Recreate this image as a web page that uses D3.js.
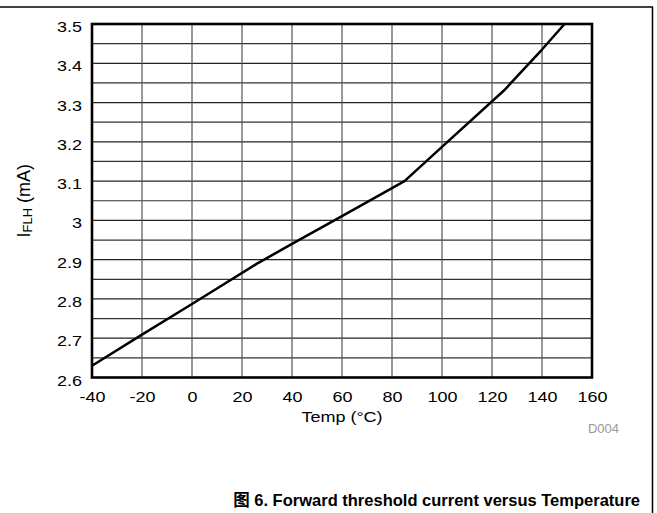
<!DOCTYPE html>
<html>
<head>
<meta charset="utf-8">
<script src="https://cdn.jsdelivr.net/npm/d3@7"></script>
<style>
  body { margin: 0; background: #fff; }
  svg { display: block; }
  text { font-family: "Liberation Sans", Arial, sans-serif; }
</style>
</head>
<body>
<svg id="chart" width="657" height="513"></svg>
<script>
// ---- Data ----
const temps = [-40, -20, 0, 26, 40, 60, 85, 100, 125, 140, 149];
const iflh = [2.63, 2.709, 2.787, 2.89, 2.94, 3.011, 3.10, 3.187, 3.332, 3.435, 3.5];
const xTicks = [-40, -20, 0, 20, 40, 60, 80, 100, 120, 140, 160];
const yTicks = [2.6, 2.7, 2.8, 2.9, 3, 3.1, 3.2, 3.3, 3.4, 3.5];
const yMinorTicks = [2.65, 2.75, 2.85, 2.95, 3.05, 3.15, 3.25, 3.35, 3.45];
const xLabel = "Temp (°C)";
const yLabelMain = "I";
const yLabelSub = "FLH";
const yLabelTail = " (mA)";
const codeLabel = "D004";
const title = "图 6. Forward threshold current versus Temperature";

const svg = d3.select("#chart");
const plot = { left: 92, right: 592, top: 24, bottom: 377.5 };
const SX = 1.2; // horizontal stretch of the reference lettering

const x = d3.scaleLinear().domain([-40, 160]).range([plot.left, plot.right]);
const y = d3.scaleLinear().domain([2.6, 3.5]).range([plot.bottom, plot.top]);

// outer frame (top and right)
svg.append("line").attr("x1", 0).attr("x2", 653).attr("y1", 7).attr("y2", 7)
  .attr("stroke", "#000").attr("stroke-width", 1.5);
svg.append("line").attr("x1", 652.5).attr("x2", 652.5).attr("y1", 7).attr("y2", 513)
  .attr("stroke", "#000").attr("stroke-width", 1.5);

// grid
const g = svg.append("g");
g.selectAll(".hmin").data(yMinorTicks).enter().append("line")
  .attr("x1", plot.left).attr("x2", plot.right)
  .attr("y1", d => y(d)).attr("y2", d => y(d))
  .attr("stroke", "#333").attr("stroke-width", 1.2);
g.selectAll(".hmaj").data(yTicks).enter().append("line")
  .attr("x1", plot.left).attr("x2", plot.right)
  .attr("y1", d => y(d)).attr("y2", d => y(d))
  .attr("stroke", "#222").attr("stroke-width", 1.2);
g.selectAll(".v").data(xTicks).enter().append("line")
  .attr("x1", d => x(d)).attr("x2", d => x(d))
  .attr("y1", plot.top).attr("y2", plot.bottom)
  .attr("stroke", "#555").attr("stroke-width", 1.2);

// data line
const line = d3.line().x((d, i) => x(temps[i])).y(d => y(d));
svg.append("path").datum(iflh).attr("d", line)
  .attr("fill", "none").attr("stroke", "#000").attr("stroke-width", 2.5)
  .attr("stroke-linejoin", "round");

// plot border
svg.append("rect").attr("x", plot.left).attr("y", plot.top)
  .attr("width", plot.right - plot.left).attr("height", plot.bottom - plot.top)
  .attr("fill", "none").attr("stroke", "#000").attr("stroke-width", 2.6);

// axes via d3 (tick labels only)
const xAxis = d3.axisBottom(x).tickValues(xTicks).tickSize(0).tickPadding(0).tickFormat(d => String(d));
const xa = svg.append("g").attr("transform", `translate(0,${plot.bottom + 13})`).call(xAxis);
xa.select(".domain").remove();
xa.selectAll("text").attr("font-size", 15).attr("font-family", "Liberation Sans, Arial, sans-serif")
  .attr("fill", "#000").attr("dy", "0.75em").attr("transform", `scale(${SX},1)`);

const yAxis = d3.axisLeft(y).tickValues(yTicks).tickSize(0).tickPadding(0)
  .tickFormat(d => (Math.abs(d - 3) < 1e-9 ? "3" : d3.format(".1f")(d)));
const ya = svg.append("g").attr("transform", `translate(${plot.left - 10},0)`).call(yAxis);
ya.select(".domain").remove();
ya.selectAll("text").attr("font-size", 15).attr("font-family", "Liberation Sans, Arial, sans-serif")
  .attr("fill", "#000").attr("dy", "0.5em").attr("transform", `scale(${SX},1)`);

// axis titles
svg.append("text").attr("transform", `translate(${(plot.left + plot.right) / 2},422) scale(${SX},1)`)
  .attr("text-anchor", "middle").attr("font-size", 15).attr("fill", "#000").text(xLabel);

const yl = svg.append("text").attr("transform", `translate(29.5,${(plot.top + plot.bottom) / 2}) rotate(-90)`)
  .attr("text-anchor", "middle").attr("font-size", 18).attr("fill", "#000");
yl.append("tspan").text(yLabelMain);
yl.append("tspan").attr("font-size", 13).attr("dy", 2).text(yLabelSub);
yl.append("tspan").attr("dy", -2).text(yLabelTail);

svg.append("text").attr("x", 619).attr("y", 433).attr("text-anchor", "end")
  .attr("font-size", 13).attr("fill", "#999").text(codeLabel);

// caption
svg.append("text").attr("x", 640).attr("y", 506).attr("text-anchor", "end")
  .attr("font-size", 16.5).attr("font-weight", "bold").attr("fill", "#000")
  .style("font-family", "'Liberation Sans', Arial, 'Noto Sans CJK SC', sans-serif")
  .text(title);
</script>
</body>
</html>
